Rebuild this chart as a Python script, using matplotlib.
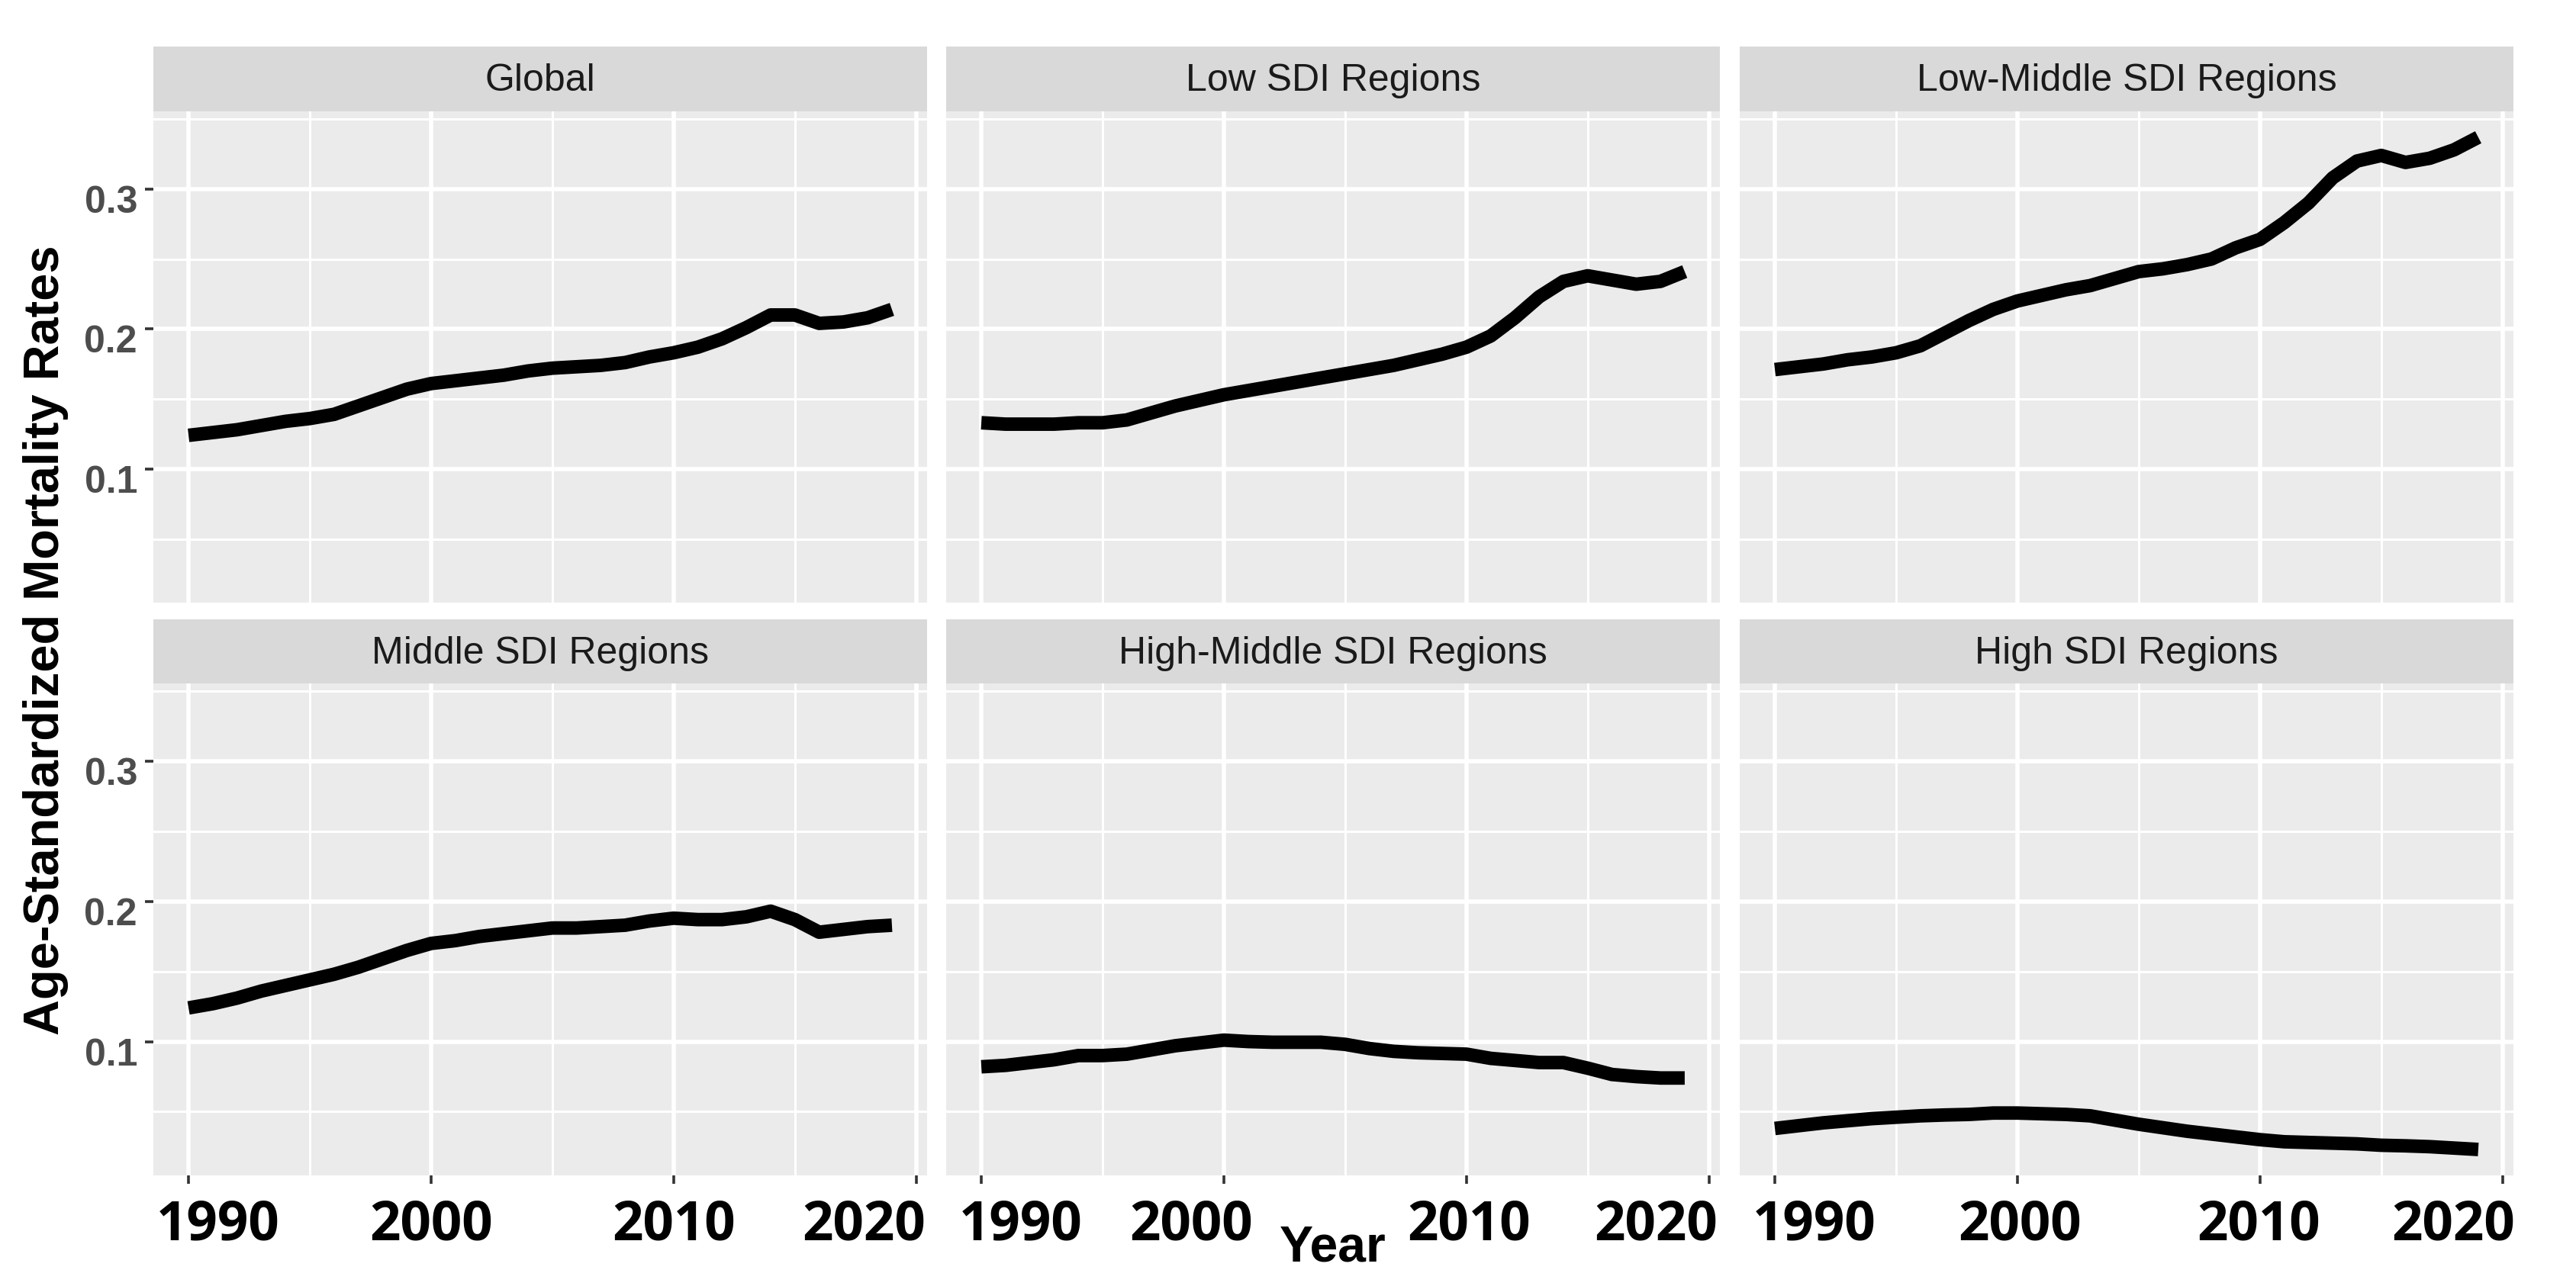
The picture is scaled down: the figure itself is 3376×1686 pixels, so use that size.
import matplotlib
matplotlib.use("Agg")
import matplotlib.pyplot as plt
from matplotlib.transforms import blended_transform_factory, ScaledTranslation

# ---------------- data ----------------
years = list(range(1990, 2020))
panel_titles = ["Global", "Low SDI Regions", "Low-Middle SDI Regions",
                "Middle SDI Regions", "High-Middle SDI Regions", "High SDI Regions"]

global_rate = [0.124, 0.126, 0.128, 0.131, 0.134, 0.136, 0.139, 0.145, 0.151, 0.157,
               0.161, 0.163, 0.165, 0.167, 0.170, 0.172, 0.173, 0.174, 0.176, 0.180,
               0.183, 0.187, 0.193, 0.201, 0.210, 0.210, 0.204, 0.205, 0.208, 0.214]
low_rate = [0.133, 0.132, 0.132, 0.132, 0.133, 0.133, 0.135, 0.140, 0.145, 0.149,
            0.153, 0.156, 0.159, 0.162, 0.165, 0.168, 0.171, 0.174, 0.178, 0.182,
            0.187, 0.195, 0.208, 0.223, 0.234, 0.238, 0.235, 0.232, 0.234, 0.241]
low_middle_rate = [0.171, 0.173, 0.175, 0.178, 0.180, 0.183, 0.188, 0.197, 0.206, 0.214,
                   0.220, 0.224, 0.228, 0.231, 0.236, 0.241, 0.243, 0.246, 0.250, 0.258,
                   0.264, 0.276, 0.290, 0.308, 0.320, 0.324, 0.319, 0.322, 0.328, 0.337]
middle_rate = [0.124, 0.127, 0.131, 0.136, 0.140, 0.144, 0.148, 0.153, 0.159, 0.165,
               0.170, 0.172, 0.175, 0.177, 0.179, 0.181, 0.181, 0.182, 0.183, 0.186,
               0.188, 0.187, 0.187, 0.189, 0.193, 0.187, 0.178, 0.180, 0.182, 0.183]
high_middle_rate = [0.082, 0.083, 0.085, 0.087, 0.090, 0.090, 0.091, 0.094, 0.097, 0.099,
                    0.101, 0.100, 0.0995, 0.0995, 0.0995, 0.098, 0.095, 0.093, 0.092, 0.0915,
                    0.091, 0.088, 0.0865, 0.085, 0.085, 0.081, 0.0765, 0.075, 0.074, 0.074]
high_rate = [0.038, 0.040, 0.042, 0.0435, 0.045, 0.046, 0.047, 0.0476, 0.048, 0.049,
             0.049, 0.0485, 0.048, 0.047, 0.044, 0.041, 0.0385, 0.036, 0.034, 0.032,
             0.030, 0.0285, 0.028, 0.0275, 0.027, 0.026, 0.0256, 0.025, 0.024, 0.023]
series = [global_rate, low_rate, low_middle_rate, middle_rate, high_middle_rate, high_rate]

x_major = [1990, 2000, 2010, 2020]
x_minor = [1995, 2005, 2015]
y_major = [0.1, 0.2, 0.3]
y_minor = [0.05, 0.15, 0.25, 0.35]
y_labels = ["0.1", "0.2", "0.3"]

# ---------------- layout ----------------
W, H, DPI = 3376, 1686, 200
fig = plt.figure(figsize=(W / DPI, H / DPI), dpi=DPI, facecolor="white")

col_left = [201, 1240, 2280]
col_w = 1014
rows = [(61, 146, 790), (812, 896, 1541)]  # strip top, panel top, panel bottom (px)

# per-column x tick label placement: (anchor, ha, dx_px)
xlab_place = [
    [("axes0", "left", 4), ("data", "center", 0), ("data", "center", 0), ("axes1", "right", -2)],
    [("axes0", "left", 17), ("data", "center", -43), ("data", "center", 3), ("axes1", "right", -3)],
    [("axes0", "left", 17), ("data", "center", 3), ("data", "center", -2), ("axes1", "right", 2)],
]

bg = "#EBEBEB"
strip_bg = "#D9D9D9"
tick_font = "Liberation Sans"
xt_font = "Open Sans"

for i, (title, vals) in enumerate(zip(panel_titles, series)):
    r, c = divmod(i, 3)
    st, pt, pb = rows[r]
    left = col_left[c] / W
    ax = fig.add_axes([left, 1 - pb / H, col_w / W, (pb - pt) / H])
    ax.set_facecolor(bg)
    for s in ax.spines.values():
        s.set_visible(False)
    ax.set_xlim(1988.55, 2020.45)
    ax.set_ylim(0.0045, 0.3555)
    ax.set_xticks(x_major)
    ax.set_xticks(x_minor, minor=True)
    ax.set_yticks(y_major)
    ax.set_yticks(y_minor, minor=True)
    ax.grid(which="major", color="white", linewidth=2.0)
    ax.grid(which="minor", color="white", linewidth=1.1)
    ax.set_axisbelow(True)
    ax.tick_params(which="minor", length=0)
    ax.tick_params(which="major", length=4, width=1.3, color="#333333")
    ax.tick_params(axis="x", labelbottom=False, bottom=(r == 1))
    if c == 0:
        ax.set_yticklabels(y_labels)
        ax.tick_params(axis="y", left=True, labelleft=True, pad=3.6,
                       labelsize=18, labelcolor="#4D4D4D")
        for lab in ax.get_yticklabels():
            lab.set_fontfamily(tick_font)
            lab.set_fontweight("bold")
            lab.set_verticalalignment("top")
            lab.set_transform(lab.get_transform() +
                              ScaledTranslation(0, 5 / DPI, fig.dpi_scale_trans))
    else:
        ax.tick_params(axis="y", left=False, labelleft=False)

    ax.plot(years, vals, color="black", linewidth=6.4, solid_capstyle="butt",
            solid_joinstyle="round", zorder=3)

    # strip
    sax = fig.add_axes([left, 1 - pt / H, col_w / W, (pt - st) / H])
    sax.set_facecolor(strip_bg)
    sax.set_xticks([])
    sax.set_yticks([])
    for s in sax.spines.values():
        s.set_visible(False)
    sax.text(0.5, 0.47, title, transform=sax.transAxes, ha="center", va="center",
             fontsize=18, color="#1A1A1A", family=tick_font)

    # bottom row x tick labels
    if r == 1:
        for v, (anchor, ha, dx) in zip(x_major, xlab_place[c]):
            off = ScaledTranslation(dx / DPI, 0, fig.dpi_scale_trans)
            if anchor == "data":
                tr = blended_transform_factory(ax.transData, fig.transFigure) + off
                xv = v
            else:
                tr = blended_transform_factory(ax.transAxes, fig.transFigure) + off
                xv = 0 if anchor == "axes0" else 1
            ax.text(xv, 1 - 1625 / H, str(v), transform=tr, ha=ha, va="baseline",
                    fontsize=25.5, fontweight="bold", color="black", family=xt_font,
                    clip_on=False)

fig.text(1747 / W, 1 - 1653 / H, "Year", ha="center", va="baseline",
         fontsize=23.8, fontweight="bold", color="black", family=tick_font)
fig.text(60 / W, 1 - 839 / H, "Age-Standardized Mortality Rates", rotation=90,
         ha="center", va="center", fontsize=23.4, fontweight="bold", color="black",
         family=tick_font)

fig.savefig("out.png", dpi=DPI, facecolor="white")
